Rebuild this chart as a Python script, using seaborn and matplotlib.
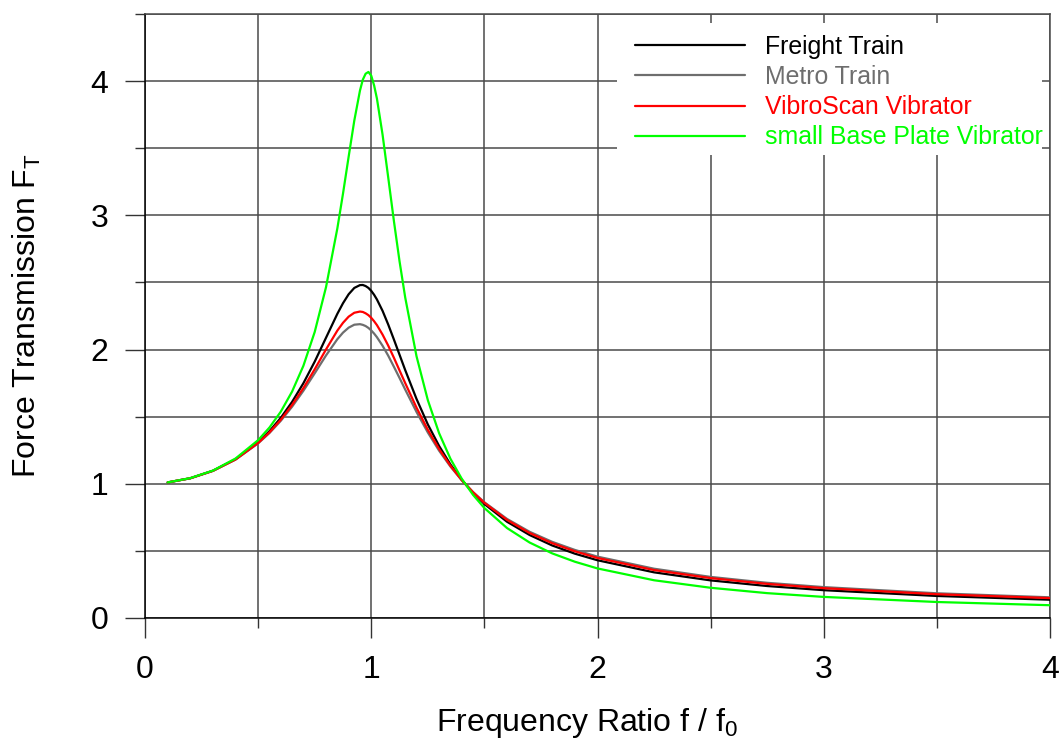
import matplotlib
matplotlib.use("Agg")
import matplotlib.pyplot as plt
import pandas as pd
import seaborn as sns
from matplotlib.patches import Rectangle
from matplotlib.ticker import MultipleLocator

# ---- data ----
ratio = [0.1, 0.2, 0.3, 0.4, 0.5, 0.55, 0.6, 0.65, 0.7, 0.75, 0.8, 0.85, 0.875, 0.9,
         0.925, 0.95, 0.9625, 0.975, 0.9875, 1.0, 1.0125, 1.025, 1.05, 1.075, 1.1,
         1.125, 1.15, 1.2, 1.25, 1.3, 1.35, 1.4, 1.45, 1.5, 1.6, 1.7, 1.8, 1.9, 2.0,
         2.25, 2.5, 2.75, 3.0, 3.5, 4.0]

freight_train = [1.010, 1.041, 1.097, 1.183, 1.309, 1.392, 1.491, 1.610, 1.749, 1.910,
                 2.088, 2.266, 2.345, 2.412, 2.459, 2.480, 2.481, 2.473, 2.459, 2.437,
                 2.408, 2.373, 2.288, 2.186, 2.075, 1.961, 1.847, 1.632, 1.442, 1.281,
                 1.144, 1.029, 0.932, 0.849, 0.717, 0.618, 0.540, 0.479, 0.430, 0.340,
                 0.280, 0.238, 0.207, 0.164, 0.136]

metro_train = [1.010, 1.041, 1.096, 1.180, 1.301, 1.378, 1.469, 1.574, 1.693, 1.823,
               1.956, 2.077, 2.126, 2.163, 2.185, 2.189, 2.184, 2.175, 2.161, 2.142,
               2.119, 2.092, 2.028, 1.954, 1.872, 1.788, 1.702, 1.535, 1.382, 1.246,
               1.128, 1.026, 0.938, 0.862, 0.738, 0.642, 0.567, 0.507, 0.457, 0.367,
               0.306, 0.262, 0.230, 0.184, 0.154]

vibroscan = [1.010, 1.041, 1.096, 1.181, 1.304, 1.383, 1.477, 1.587, 1.713, 1.853,
             2.001, 2.141, 2.199, 2.245, 2.274, 2.283, 2.280, 2.270, 2.256, 2.236,
             2.211, 2.182, 2.111, 2.029, 1.939, 1.844, 1.750, 1.567, 1.402, 1.258,
             1.134, 1.027, 0.936, 0.858, 0.731, 0.633, 0.557, 0.497, 0.447, 0.357,
             0.297, 0.254, 0.222, 0.177, 0.148]

base_plate = [1.010, 1.042, 1.098, 1.188, 1.325, 1.419, 1.537, 1.687, 1.879, 2.131,
              2.465, 2.902, 3.161, 3.437, 3.706, 3.929, 4.010, 4.055, 4.068, 4.040,
              3.968, 3.870, 3.600, 3.281, 2.958, 2.657, 2.388, 1.950, 1.623, 1.376,
              1.186, 1.037, 0.917, 0.819, 0.670, 0.562, 0.481, 0.419, 0.369, 0.281,
              0.225, 0.185, 0.157, 0.119, 0.095]

series_names = ["Freight Train", "Metro Train", "VibroScan Vibrator",
                "small Base Plate Vibrator"]
series_values = [freight_train, metro_train, vibroscan, base_plate]
series_colors = ["#000000", "#6e6e6e", "#ff0000", "#00ff00"]

x_ticks = [0, 1, 2, 3, 4]
y_ticks = [0, 1, 2, 3, 4]

df = pd.concat(
    [pd.DataFrame({"ratio": ratio, "FT": vals, "series": name})
     for name, vals in zip(series_names, series_values)],
    ignore_index=True,
)

# ---- styling ----
sns.set_theme(style="white")
plt.rcParams["font.family"] = ["Liberation Sans", "DejaVu Sans"]
plt.rcParams["mathtext.fontset"] = "custom"
plt.rcParams["mathtext.rm"] = "Liberation Sans"
plt.rcParams["mathtext.it"] = "Liberation Sans:italic"

fig = plt.figure(figsize=(10.61, 7.40), dpi=100)
ax = fig.add_axes([0.1367, 0.1649, 0.8529, 0.8162])

sns.lineplot(
    data=df, x="ratio", y="FT", hue="series", hue_order=series_names,
    palette=dict(zip(series_names, series_colors)), estimator=None, sort=False,
    linewidth=1.6, ax=ax, zorder=3,
)

ax.set_xlim(0, 4)
ax.set_ylim(0, 4.5)
ax.xaxis.set_major_locator(MultipleLocator(1))
ax.xaxis.set_minor_locator(MultipleLocator(0.5))
ax.yaxis.set_major_locator(MultipleLocator(1))
ax.yaxis.set_minor_locator(MultipleLocator(0.5))
ax.set_xticks(x_ticks)
ax.set_yticks(y_ticks)
ax.set_xticklabels([str(t) for t in x_ticks])
ax.set_yticklabels([str(t) for t in y_ticks])

ax.grid(True, which="both", axis="both", color="#4a4a4a", linewidth=1.1, zorder=0)
ax.set_axisbelow(True)

ax.tick_params(axis="both", which="major", direction="out", length=14.4, width=1.0,
               color="#333333", labelsize=23, pad=12, left=True, bottom=True,
               labelcolor="black")
ax.tick_params(axis="both", which="minor", direction="out", length=7.2, width=1.0,
               color="#333333", left=True, bottom=True)

for side in ["left", "bottom"]:
    ax.spines[side].set_color("black")
    ax.spines[side].set_linewidth(1.1)
for side in ["top", "right"]:
    ax.spines[side].set_color("#4a4a4a")
    ax.spines[side].set_linewidth(1.1)

ax.set_xlabel(r"Frequency Ratio f / f$_\mathrm{0}$", fontsize=23, color="black")
ax.set_ylabel(r"Force Transmission F$_\mathrm{T}$", fontsize=23, color="black")
ax.xaxis.set_label_coords(0.488, -0.145)
ax.yaxis.set_label_coords(-0.113, 0.5)

# white panel behind the legend (covers the grid there)
ax.add_patch(Rectangle((0.5215, 0.766), 0.4697, 0.2191, transform=ax.transAxes,
                       facecolor="white", edgecolor="none", zorder=2))

handles, labels = ax.get_legend_handles_labels()
leg = ax.legend(
    handles, labels, loc="upper left",
    bbox_to_anchor=(635 / 1061, 1 - 35 / 740), bbox_transform=fig.transFigure,
    fontsize=17.9, frameon=False, handlelength=4.43, handletextpad=0.8,
    labelspacing=0.246, borderpad=0, borderaxespad=0, labelcolor=series_colors,
)
leg.set_zorder(5)

fig.savefig("out.png", dpi=100)
